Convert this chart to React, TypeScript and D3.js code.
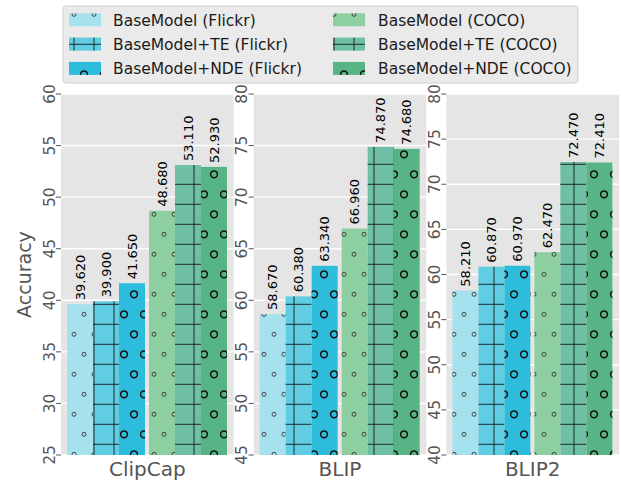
import React from "react";
import * as d3 from "d3";

// chart data
const models = ["ClipCap", "BLIP", "BLIP2"];
const datasets = ["Flickr", "COCO"];
const variants = ["BaseModel", "BaseModel+TE", "BaseModel+NDE"];

const clipcapFlickr = [39.62, 39.9, 41.65];
const clipcapCoco = [48.68, 53.11, 52.93];
const blipFlickr = [58.67, 60.38, 63.34];
const blipCoco = [66.96, 74.87, 74.68];
const blip2Flickr = [58.21, 60.87, 60.97];
const blip2Coco = [62.47, 72.47, 72.41];

const clipcapTicks = [25, 30, 35, 40, 45, 50, 55, 60];
const blipTicks = [45, 50, 55, 60, 65, 70, 75, 80];
const blip2Ticks = [40, 45, 50, 55, 60, 65, 70, 75, 80];

const flickrColors = ["#a6e1ee", "#61cde3", "#2dbcdc"];
const cocoColors = ["#8ecfa1", "#6ebfa5", "#57b585"];
const hatchIds = ["hatch-o", "hatch-plus", "hatch-O"];

const panelValues = [
  [clipcapFlickr, clipcapCoco],
  [blipFlickr, blipCoco],
  [blip2Flickr, blip2Coco],
];
const panelTicks = [clipcapTicks, blipTicks, blip2Ticks];

const W = 621;
const H = 483;
const top = 94;
const bottom = 455;
const font = "DejaVu Sans, sans-serif";

const App = () => {
  const panelScale = d3.scaleBand<string>().domain(models).range([61, 619]).paddingInner(0.104);
  const pw = panelScale.bandwidth();

  const legendItems = [
    ...variants.map((v, i) => ({ label: `${v} (Flickr)`, color: flickrColors[i], hatch: hatchIds[i], col: 0, row: i })),
    ...variants.map((v, i) => ({ label: `${v} (COCO)`, color: cocoColors[i], hatch: hatchIds[i], col: 1, row: i })),
  ];

  return (
    <svg
      width={W}
      height={H}
      style={{ position: "absolute", left: 0, top: 0, background: "#fff" }}
      fontFamily={font}
    >
      <defs>
        <pattern id="hatch-o" patternUnits="userSpaceOnUse" x={0} y={0} width={20} height={40}>
          <circle cx={14} cy={14.3} r={2} fill="none" stroke="#333" strokeWidth={0.9} />
          <circle cx={4} cy={34.3} r={2} fill="none" stroke="#333" strokeWidth={0.9} />
        </pattern>
        <pattern id="hatch-plus" patternUnits="userSpaceOnUse" x={0} y={0} width={20} height={20}>
          <line x1={0} x2={20} y1={4.3} y2={4.3} stroke="#111" strokeWidth={1} strokeOpacity={0.85} />
          <line x1={14} x2={14} y1={0} y2={20} stroke="#111" strokeWidth={1} strokeOpacity={0.85} />
        </pattern>
        <pattern id="hatch-O" patternUnits="userSpaceOnUse" x={0} y={0} width={20} height={40}>
          <circle cx={14} cy={14.3} r={3.4} fill="none" stroke="#111" strokeWidth={1.5} />
          <circle cx={4} cy={34.3} r={3.4} fill="none" stroke="#111" strokeWidth={1.5} />
        </pattern>
      </defs>

      {models.map((m, pi) => {
        const x0 = panelScale(m)!;
        const ticks = panelTicks[pi];
        const y = d3.scaleLinear().domain([ticks[0], ticks[ticks.length - 1]]).range([bottom, top]);
        const groupScale = d3.scaleBand<string>().domain(datasets).range([x0 + 6, x0 + 166]).paddingInner(4 / 82);
        const variantScale = d3.scaleBand<string>().domain(variants).range([0, groupScale.bandwidth()]);
        return (
          <g key={m}>
            <rect x={x0} y={top} width={pw} height={bottom - top} fill="#e5e5e5" />
            {ticks.map((t) => (
              <g key={t}>
                <line x1={x0} x2={x0 + pw} y1={y(t)} y2={y(t)} stroke="#fff" strokeWidth={1.4} />
                <line x1={x0 - 5} x2={x0} y1={y(t)} y2={y(t)} stroke="#555" strokeWidth={1} />
                <text
                  transform={`translate(${x0 - 6.5},${y(t)}) rotate(-90)`}
                  textAnchor="middle"
                  fontSize={15.5}
                  fill="#555"
                >
                  {t}
                </text>
              </g>
            ))}
            {datasets.map((ds, di) =>
              variants.map((v, vi) => {
                const val = panelValues[pi][di][vi];
                const bx = groupScale(ds)! + variantScale(v)!;
                const bw = variantScale.bandwidth();
                const color = di === 0 ? flickrColors[vi] : cocoColors[vi];
                return (
                  <g key={ds + v}>
                    <rect x={bx} y={y(val)} width={bw} height={bottom - y(val)} fill={color} />
                    <rect x={bx} y={y(val)} width={bw} height={bottom - y(val)} fill={`url(#${hatchIds[vi]})`} />
                    <text
                      transform={`translate(${bx + bw / 2},${y(val) - 4}) rotate(-90)`}
                      textAnchor="start"
                      dominantBaseline="central"
                      fontSize={13}
                      fill="#000"
                    >
                      {val.toFixed(3)}
                    </text>
                  </g>
                );
              })
            )}
            <text x={x0 + pw / 2} y={476} textAnchor="middle" fontSize={20} fill="#555">
              {m}
            </text>
          </g>
        );
      })}

      <text transform={`translate(31,${(top + bottom) / 2}) rotate(-90)`} textAnchor="middle" fontSize={19} fill="#555">
        Accuracy
      </text>

      <g>
        <rect x={63} y={6} width={515} height={77} rx={3} fill="#eaeaea" stroke="#d0d0d0" strokeWidth={1} />
        {legendItems.map((it) => {
          const hx = it.col === 0 ? 69 : 333;
          const tx = it.col === 0 ? 113 : 378;
          const hy = 13.3 + it.row * 24.3;
          return (
            <g key={it.label}>
              <rect x={hx} y={hy} width={32} height={13} fill={it.color} />
              <rect x={hx} y={hy} width={32} height={13} fill={`url(#${it.hatch})`} />
              <text x={tx} y={hy + 12.2} fontSize={15.5} fill="#1a1a1a">
                {it.label}
              </text>
            </g>
          );
        })}
      </g>
    </svg>
  );
};

export default App;
